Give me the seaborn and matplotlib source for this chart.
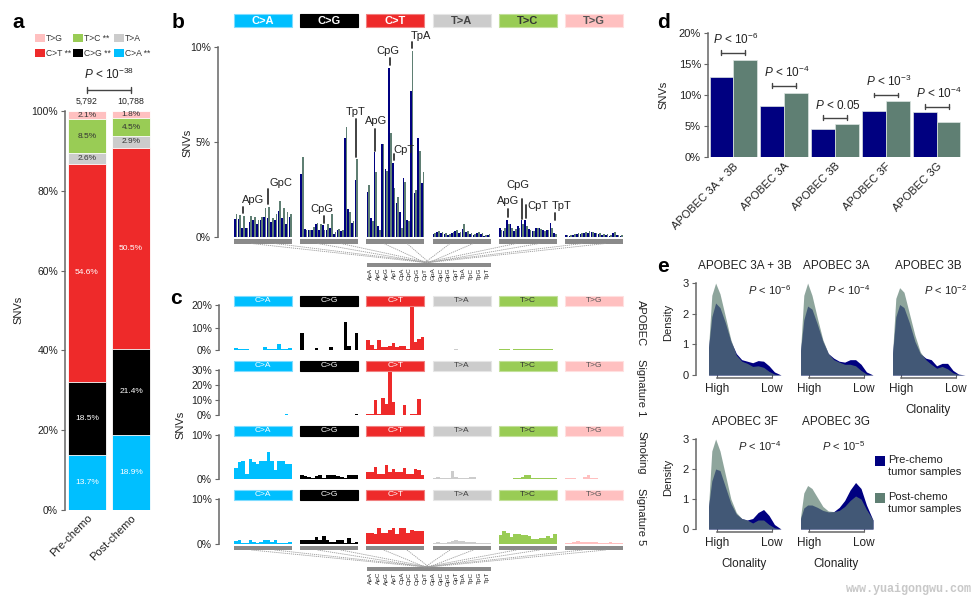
import numpy as np
import pandas as pd
import matplotlib
matplotlib.use("Agg")
import matplotlib.pyplot as plt
import seaborn as sns
from matplotlib.patches import Rectangle

# ---------------- data ----------------
MUT_TYPES = ["C>A", "C>G", "C>T", "T>A", "T>C", "T>G"]
MUT_COLORS = ["#00BFFF", "#000000", "#EE2A2A", "#CCCCCC", "#99CC55", "#FFC0C0"]
HEADER_EDGE = ["#7fdcff", "#000000", "#f08080", "#e6e6e6", "#c2e09a", "#ffe0e0"]
HEADER_TEXT = ["white", "white", "white", "#444444", "#333333", "#555555"]
BASES = ["A", "C", "G", "T"]
CONTEXTS = [f"{a}p{b}" for a in BASES for b in BASES]

# panel a
samples_a = ["Pre-chemo", "Post-chemo"]
sample_counts = ["5,792", "10,788"]
pct_pre = [13.7, 18.5, 54.6, 2.6, 8.5, 2.1]
pct_post = [18.9, 21.4, 50.5, 2.9, 4.5, 1.8]
legend_a = ["T>G", "T>C **", "T>A", "C>T **", "C>G **", "C>A **"]
legend_a_colors = ["#FFC0C0", "#99CC55", "#CCCCCC", "#EE2A2A", "#000000", "#00BFFF"]

# panel b: % of SNVs per trinucleotide context, pre / post chemo
b_pre = [
    [0.95, 0.95, 0.5, 0.45, 0.8, 0.9, 0.68, 0.9, 1.05, 0.98, 0.8, 0.92, 1.38, 0.98, 0.68, 1.03],
    [3.3, 0.4, 0.35, 0.35, 0.7, 0.35, 0.65, 0.35, 0.5, 0.15, 0.35, 0.3, 5.2, 1.45, 0.75, 3.0],
    [2.35, 1.0, 4.45, 0.6, 4.9, 3.6, 8.9, 3.9, 1.8, 1.3, 3.1, 0.9, 7.7, 2.3, 5.2, 2.85],
    [0.15, 0.25, 0.2, 0.15, 0.1, 0.2, 0.3, 0.2, 0.4, 0.25, 0.15, 0.1, 0.2, 0.15, 0.05, 0.1],
    [0.5, 0.3, 0.9, 0.7, 0.3, 0.6, 0.9, 0.9, 0.4, 0.3, 0.45, 0.45, 0.35, 0.35, 0.75, 0.2],
    [0.1, 0.05, 0.1, 0.15, 0.15, 0.2, 0.2, 0.25, 0.2, 0.15, 0.1, 0.1, 0.05, 0.2, 0.1, 0.05],
]
b_post = [
    [1.2, 1.15, 1.08, 0.45, 1.1, 1.05, 0.9, 1.05, 1.55, 1.6, 1.0, 1.2, 1.9, 1.55, 1.3, 1.2],
    [4.2, 0.35, 0.35, 0.55, 0.75, 0.7, 0.35, 0.7, 1.2, 0.25, 0.4, 0.35, 5.8, 1.3, 0.85, 4.1],
    [2.75, 0.85, 3.4, 0.35, 4.9, 3.5, 5.5, 2.6, 2.1, 0.5, 2.9, 0.85, 9.8, 2.5, 4.55, 3.4],
    [0.2, 0.3, 0.25, 0.2, 0.15, 0.25, 0.35, 0.25, 0.7, 0.3, 0.2, 0.15, 0.25, 0.2, 0.1, 0.15],
    [0.35, 0.5, 0.7, 0.5, 0.4, 0.5, 0.7, 0.6, 0.35, 0.3, 0.45, 0.4, 0.3, 0.35, 0.45, 0.15],
    [0.1, 0.1, 0.15, 0.2, 0.2, 0.25, 0.3, 0.25, 0.2, 0.2, 0.15, 0.15, 0.1, 0.25, 0.1, 0.1],
]
# (group, context index, label, line from, line to, text x, text y, ha)
b_notes = [
    (0, 2, "ApG", 1.25, 1.6, 1.6, 1.68, "left"),
    (0, 9, "GpC", 1.75, 2.55, 9.2, 2.6, "left"),
    (1, 6, "CpG", 0.75, 1.12, 5.4, 1.2, "center"),
    (1, 15, "TpT", 4.2, 6.2, 14.7, 6.3, "center"),
    (2, 2, "ApG", 4.55, 5.7, 2.2, 5.85, "center"),
    (2, 6, "CpG", 9.05, 9.4, 5.4, 9.55, "center"),
    (2, 7, "CpT", 4.05, 4.35, 7.0, 4.3, "left"),
    (2, 12, "TpA", 9.95, 10.25, 11.8, 10.3, "left"),
    (4, 2, "ApG", 1.05, 1.45, 2.0, 1.65, "center"),
    (4, 6, "CpG", 0.96, 2.0, 4.8, 2.45, "center"),
    (4, 7, "CpT", 1.0, 1.7, 7.4, 1.35, "left"),
    (4, 15, "TpT", 0.88, 1.25, 16.8, 1.35, "center"),
]

# panel c: mutational signatures (% per context)
sig_names = ["APOBEC", "Signature 1", "Smoking", "Signature 5"]
sig_apobec = [
    [0.8, 0.3, 0.3, 0.3, 0.2, 0.2, 0.2, 0.2, 1.3, 0.3, 0.3, 0.3, 2.7, 0.5, 0.5, 1.0],
    [7.7, 0.1, 0.1, 0.1, 0.8, 0.1, 0.1, 0.1, 1.5, 0.1, 0.1, 0.1, 12.5, 2.0, 0.1, 7.5],
    [4.5, 2.3, 0.3, 4.3, 1.5, 1.5, 2.0, 3.0, 1.5, 2.0, 1.8, 0.3, 19.0, 3.5, 5.0, 6.0],
    [0.2, 0.1, 0.2, 0.1, 0.2, 0.1, 0.3, 0.1, 0.2, 0.1, 0.2, 0.1, 0.1, 0.2, 0.2, 0.1],
    [0.3, 0.5, 0.3, 0.2, 0.3, 0.6, 0.5, 0.3, 0.6, 0.5, 0.3, 0.3, 0.3, 0.5, 0.3, 0.2],
    [0.1, 0.2, 0.1, 0.1, 0.1, 0.1, 0.2, 0.1, 0.1, 0.1, 0.1, 0.1, 0.1, 0.2, 0.1, 0.1],
]
sig_1 = [
    [0.3, 0.2, 0.2, 0.2, 0.3, 0.3, 0.3, 0.2, 0.3, 0.3, 0.3, 0.2, 0.3, 0.3, 0.6, 0.3],
    [0.1, 0.1, 0.1, 0.1, 0.1, 0.1, 0.1, 0.1, 0.1, 0.1, 0.1, 0.1, 0.1, 0.1, 0.1, 0.4],
    [0.5, 0.5, 10.0, 0.5, 11.5, 7.5, 29.0, 8.5, 0.3, 0.3, 6.5, 0.3, 0.5, 1.0, 11.0, 0.3],
    [0.2, 0.1, 0.2, 0.1, 0.1, 0.2, 0.1, 0.1, 0.2, 0.1, 0.1, 0.2, 0.1, 0.1, 0.1, 0.1],
    [0.3, 0.2, 0.3, 0.2, 0.3, 0.2, 0.3, 0.3, 0.3, 0.2, 0.3, 0.2, 0.3, 0.2, 0.3, 0.2],
    [0.1, 0.1, 0.1, 0.1, 0.1, 0.1, 0.1, 0.1, 0.1, 0.1, 0.1, 0.1, 0.1, 0.1, 0.1, 0.1],
]
sig_smoking = [
    [2.5, 3.8, 4.2, 1.2, 4.5, 3.8, 3.5, 4.0, 4.0, 6.1, 4.2, 2.1, 4.0, 4.2, 3.4, 3.4],
    [0.8, 0.6, 0.5, 0.3, 0.6, 1.0, 0.3, 0.8, 1.0, 0.8, 0.6, 0.5, 0.3, 1.0, 0.8, 1.0],
    [1.5, 1.5, 2.7, 1.2, 1.2, 3.2, 1.5, 2.2, 1.5, 1.5, 2.6, 1.2, 1.2, 2.3, 2.0, 1.0],
    [0.3, 0.5, 0.3, 0.2, 0.3, 1.8, 0.5, 0.3, 0.3, 0.3, 0.5, 0.4, 0.1, 0.1, 0.1, 0.1],
    [0.1, 0.1, 0.1, 0.1, 0.2, 0.3, 0.5, 0.8, 0.8, 0.3, 0.2, 0.2, 0.2, 0.2, 0.2, 0.2],
    [0.2, 0.3, 0.2, 0.1, 0.1, 0.5, 0.8, 0.3, 0.3, 0.1, 0.1, 0.1, 0.1, 0.1, 0.1, 0.1],
]
sig_5 = [
    [0.7, 1.0, 0.3, 0.3, 1.0, 0.5, 0.3, 0.5, 0.8, 0.8, 0.5, 0.8, 0.3, 0.3, 0.3, 0.5],
    [0.8, 1.0, 0.8, 1.0, 1.5, 0.8, 1.8, 0.8, 0.5, 0.5, 0.8, 1.0, 0.3, 1.3, 0.3, 0.5],
    [2.5, 2.5, 2.2, 3.5, 2.5, 2.5, 3.2, 3.5, 2.2, 3.5, 3.5, 2.5, 3.2, 2.8, 2.8, 2.8],
    [0.3, 0.5, 0.3, 0.2, 0.4, 0.6, 0.8, 0.6, 0.6, 0.5, 0.5, 0.4, 0.2, 0.2, 0.2, 0.2],
    [2.0, 2.8, 2.5, 1.5, 2.3, 2.3, 2.0, 2.0, 1.8, 1.2, 1.2, 1.4, 1.3, 1.8, 1.4, 2.2],
    [0.3, 0.2, 0.4, 0.6, 0.5, 0.5, 0.5, 0.4, 0.4, 0.3, 0.3, 0.3, 0.5, 0.3, 0.3, 0.2],
]

# panel d
d_genes = ["APOBEC 3A + 3B", "APOBEC 3A", "APOBEC 3B", "APOBEC 3F", "APOBEC 3G"]
d_pre = [12.9, 8.3, 4.5, 7.4, 7.3]
d_post = [15.6, 10.4, 5.3, 9.1, 5.6]
d_pvals = [r"$P$ < 10$^{-6}$", r"$P$ < 10$^{-4}$", r"$P$ < 0.05",
           r"$P$ < 10$^{-3}$", r"$P$ < 10$^{-4}$"]
d_bracket = [16.8, 11.5, 6.3, 10.0, 8.1]

# panel e: clonality densities (0 = high, 1 = low)
e_titles = ["APOBEC 3A + 3B", "APOBEC 3A", "APOBEC 3B", "APOBEC 3F", "APOBEC 3G"]
e_pvals = [r"$P$ < 10$^{-6}$", r"$P$ < 10$^{-4}$", r"$P$ < 10$^{-2}$",
           r"$P$ < 10$^{-4}$", r"$P$ < 10$^{-5}$"]
e_grid = [-0.16, -0.1, -0.03, 0.05, 0.15, 0.25, 0.35, 0.45, 0.55, 0.65, 0.75, 0.85, 0.95, 1.05, 1.17]
e_pre = [
    [0.9, 1.9, 2.35, 2.2, 1.7, 1.1, 0.7, 0.5, 0.45, 0.4, 0.47, 0.45, 0.3, 0.1, 0.0],
    [0.8, 1.8, 2.25, 2.15, 1.65, 1.1, 0.7, 0.55, 0.45, 0.42, 0.5, 0.5, 0.35, 0.1, 0.0],
    [0.7, 1.9, 2.3, 2.2, 1.7, 1.1, 0.7, 0.55, 0.5, 0.3, 0.38, 0.38, 0.15, 0.03, 0.0],
    [0.75, 1.6, 2.0, 1.95, 1.4, 0.85, 0.5, 0.35, 0.3, 0.35, 0.55, 0.65, 0.45, 0.15, 0.0],
    [0.35, 0.7, 0.8, 0.8, 0.72, 0.62, 0.57, 0.58, 0.72, 0.95, 1.3, 1.55, 1.35, 0.8, 0.3],
]
e_post = [
    [0.9, 2.6, 3.0, 2.65, 1.9, 1.15, 0.65, 0.45, 0.38, 0.28, 0.3, 0.25, 0.12, 0.03, 0.0],
    [0.8, 2.6, 3.0, 2.6, 1.85, 1.15, 0.7, 0.5, 0.42, 0.35, 0.35, 0.3, 0.15, 0.03, 0.0],
    [0.7, 2.5, 2.85, 2.7, 2.0, 1.3, 0.75, 0.5, 0.35, 0.22, 0.28, 0.2, 0.07, 0.02, 0.0],
    [0.75, 2.6, 3.0, 2.6, 1.8, 1.0, 0.55, 0.35, 0.3, 0.2, 0.3, 0.3, 0.15, 0.04, 0.0],
    [0.4, 1.2, 1.45, 1.35, 1.05, 0.75, 0.6, 0.58, 0.62, 0.75, 0.95, 1.1, 1.0, 0.65, 0.3],
]

# ---------------- style ----------------
NAVY = "#000080"
POST = "#5F7F73"
AX_GRAY = "#666666"
TXT = "#222222"
W, H = 975, 599

sns.set_style("ticks")
plt.rcParams["font.family"] = ["Liberation Sans", "DejaVu Sans"]
plt.rcParams["mathtext.fontset"] = "custom"
plt.rcParams["mathtext.rm"] = "Liberation Sans"
plt.rcParams["mathtext.it"] = "Liberation Sans:italic"
plt.rcParams["axes.edgecolor"] = AX_GRAY
plt.rcParams["xtick.color"] = AX_GRAY
plt.rcParams["ytick.color"] = AX_GRAY
plt.rcParams["xtick.labelcolor"] = TXT
plt.rcParams["ytick.labelcolor"] = TXT

fig = plt.figure(figsize=(W / 100, H / 100), dpi=100)

# overlay in pixel coordinates for labels / decorations
ov = fig.add_axes([0, 0, 1, 1], zorder=10)
ov.set_xlim(0, W)
ov.set_ylim(H, 0)
ov.axis("off")


def add_px_axes(x0, y0, x1, y1):
    ax = fig.add_axes([x0 / W, 1 - y1 / H, (x1 - x0) / W, (y1 - y0) / H])
    ax.patch.set_alpha(0)
    return ax


def left_axis(ax, ticks, labels, fs=7.5):
    sns.despine(ax=ax, bottom=True)
    ax.set_xticks([])
    ax.set_yticks(ticks)
    ax.set_yticklabels(labels, fontsize=fs)
    ax.spines["left"].set_bounds(ticks[0], ticks[-1])
    ax.spines["left"].set_linewidth(1.1)
    ax.tick_params(axis="y", length=3, pad=2)
    ax.set_xlabel("")
    ax.set_ylabel("")


def bracket(ax, x0, x1, y, cap):
    ax.plot([x0, x1], [y, y], color="#444444", lw=1.0, clip_on=False)
    for xx in (x0, x1):
        ax.plot([xx, xx], [y - cap, y + cap], color="#444444", lw=1.0, clip_on=False)


def letter(x, y, s):
    ov.text(x, y, s, fontsize=15, fontweight="bold", color="black", va="baseline")


# ---------------- panel a ----------------
ax_a = add_px_axes(65, 111, 153, 510)
cum_pre = np.cumsum(pct_pre)
cum_post = np.cumsum(pct_post)
for k in range(5, -1, -1):
    sns.barplot(x=samples_a, y=[cum_pre[k], cum_post[k]], color=MUT_COLORS[k],
                width=0.88, saturation=1, edgecolor="white", linewidth=0.6,
                errorbar=None, ax=ax_a)
for i, vals in enumerate([pct_pre, pct_post]):
    cum = np.cumsum(vals)
    for k, v in enumerate(vals):
        ax_a.text(i, cum[k] - v / 2, f"{v}%", ha="center", va="center", fontsize=6,
                  color="white" if k < 3 else "#333333")
    ax_a.text(i, 101.3, sample_counts[i], ha="center", va="bottom", fontsize=6.3, color=TXT)
ax_a.set_xlim(-0.5, 1.5)
ax_a.set_ylim(0, 100)
sns.despine(ax=ax_a, bottom=True)
ax_a.set_yticks(range(0, 101, 20))
ax_a.set_yticklabels([f"{t}%" for t in range(0, 101, 20)], fontsize=7.5)
ax_a.spines["left"].set_linewidth(1.1)
ax_a.tick_params(axis="y", length=3, pad=2)
ax_a.tick_params(axis="x", length=0, pad=2)
ax_a.set_xticks([0, 1])
ax_a.set_xticklabels(samples_a, rotation=45, ha="right", rotation_mode="anchor", fontsize=8)
ax_a.set_ylabel("")
bracket(ax_a, 0, 1, 105.3, 0.8)
ax_a.text(0.5, 107.2, r"$P$ < 10$^{-38}$", ha="center", va="bottom", fontsize=8.5, color=TXT,
          clip_on=False)
ov.text(18, 310, "SNVs", rotation=90, ha="center", va="center", fontsize=8, color=TXT)
for j, (lab, col) in enumerate(zip(legend_a, legend_a_colors)):
    lx = [35, 73, 114][j % 3]
    ly = 34 if j < 3 else 49
    ov.add_patch(Rectangle((lx, ly), 10, 8, facecolor=col, edgecolor="none"))
    ov.text(lx + 11, ly + 4.3, lab, ha="left", va="center", fontsize=6.2, color="#333333")
letter(12, 28, "a")

# ---------------- panel b ----------------
GX0, GW, GSTEP = 234, 58, 66.2
B_ZERO, B_YMAX = 237, 11.0
B_TOP = B_ZERO - B_YMAX * 19
ax_by = add_px_axes(218, B_TOP, 230, B_ZERO)
ax_by.set_ylim(0, B_YMAX)
left_axis(ax_by, [0, 5, 10], ["0%", "5%", "10%"])
ov.text(187, 143, "SNVs", rotation=90, ha="center", va="center", fontsize=8, color=TXT)

for g in range(6):
    x0 = GX0 + g * GSTEP
    ax = add_px_axes(x0, B_TOP, x0 + GW, B_ZERO)
    df = pd.DataFrame({
        "context": CONTEXTS * 2,
        "snv": b_pre[g] + b_post[g],
        "sample": ["Pre"] * 16 + ["Post"] * 16,
    })
    sns.barplot(df, x="context", y="snv", hue="sample", palette=[NAVY, POST],
                width=0.92, saturation=1, linewidth=0, errorbar=None, legend=False, ax=ax)
    ax.set_xlim(-0.5, 15.5)
    ax.set_ylim(0, B_YMAX)
    ax.axis("off")
    for (gg, ci, lab, lo, hi, tx, ty, ha) in b_notes:
        if gg != g:
            continue
        ax.plot([ci, ci], [lo, hi], color="#333333", lw=1.3, clip_on=False)
        ax.text(tx, ty, lab, ha=ha, va="bottom", fontsize=8, color=TXT, clip_on=False)
    # headers and base bars
    ov.add_patch(Rectangle((x0, 14), GW, 13, facecolor=MUT_COLORS[g],
                           edgecolor=HEADER_EDGE[g], lw=0.8))
    ov.text(x0 + GW / 2, 20.8, MUT_TYPES[g], ha="center", va="center", fontsize=8,
            color=HEADER_TEXT[g], fontweight="bold")
    ov.add_patch(Rectangle((x0, 239), GW, 4.5, facecolor="#8a8a8a", edgecolor="none"))
    for fx in (0.3, 0.7):
        ov.plot([x0 + fx * GW, 427 + (fx - 0.5) * 10], [243.5, 262.5], ls=(0, (1.5, 1)),
                color="#9a9a9a", lw=0.6)
letter(172, 28, "b")


def context_axis(ytop):
    ov.add_patch(Rectangle((367, ytop), 124, 4, facecolor="#8a8a8a", edgecolor="none"))
    for i, c in enumerate(CONTEXTS):
        ov.text(367 + (i + 0.5) * 124 / 16, ytop + 5, c, rotation=90, ha="center", va="top",
                fontsize=4.6, color=TXT)


context_axis(262.5)

# ---------------- panel c ----------------
c_rows = [
    (sig_apobec, 305, 350, 20, [0, 10, 20]),
    (sig_1, 370, 415, 30, [0, 10, 20, 30]),
    (sig_smoking, 435, 479, 10, [0, 10]),
    (sig_5, 499, 544, 10, [0, 10]),
]
for r, (sig, ytop, yzero, ymax, ticks) in enumerate(c_rows):
    ax_cy = add_px_axes(219, ytop, 230, yzero)
    ax_cy.set_ylim(0, ymax)
    left_axis(ax_cy, ticks, [f"{t}%" for t in ticks])
    for g in range(6):
        x0 = GX0 + g * GSTEP
        ax = add_px_axes(x0, ytop, x0 + GW, yzero)
        sns.barplot(x=CONTEXTS, y=sig[g], color=MUT_COLORS[g], width=1.0, saturation=1,
                    linewidth=0, errorbar=None, ax=ax)
        ax.set_xlim(-0.5, 15.5)
        ax.set_ylim(0, ymax)
        ax.axis("off")
        ov.add_patch(Rectangle((x0, ytop - 9), GW, 9.5, facecolor=MUT_COLORS[g],
                               edgecolor=HEADER_EDGE[g], lw=0.8))
        ov.text(x0 + GW / 2, ytop - 4.2, MUT_TYPES[g], ha="center", va="center", fontsize=6,
                color=HEADER_TEXT[g])
    ov.text(641, (ytop - 9 + yzero) / 2, sig_names[r], rotation=270, ha="center", va="center",
            fontsize=8, color=TXT)
for g in range(6):
    x0 = GX0 + g * GSTEP
    ov.add_patch(Rectangle((x0, 546), GW, 4, facecolor="#8a8a8a", edgecolor="none"))
    for fx in (0.3, 0.7):
        ov.plot([x0 + fx * GW, 427 + (fx - 0.5) * 10], [550, 567], ls=(0, (1.5, 1)),
                color="#9a9a9a", lw=0.6)
context_axis(567)
ov.text(180, 425, "SNVs", rotation=90, ha="center", va="center", fontsize=8, color=TXT)
letter(170, 304, "c")

# ---------------- panel d ----------------
ax_d = add_px_axes(708, 33, 962, 157)
df_d = pd.DataFrame({
    "gene": d_genes * 2,
    "snv": d_pre + d_post,
    "sample": ["Pre"] * 5 + ["Post"] * 5,
})
sns.barplot(df_d, x="gene", y="snv", hue="sample", palette=[NAVY, POST], width=0.94,
            saturation=1, edgecolor="#dde6e2", linewidth=0.5, errorbar=None, legend=False,
            ax=ax_d)
ax_d.set_xlim(-0.5, 4.5)
ax_d.set_ylim(0, 20)
sns.despine(ax=ax_d, bottom=True)
ax_d.set_yticks(range(0, 21, 5))
ax_d.set_yticklabels([f"{t}%" for t in range(0, 21, 5)], fontsize=8)
ax_d.spines["left"].set_linewidth(1.1)
ax_d.tick_params(axis="y", length=3, pad=2)
ax_d.tick_params(axis="x", length=0, pad=3)
ax_d.set_xticks(range(5))
ax_d.set_xticklabels(d_genes, rotation=45, ha="right", rotation_mode="anchor", fontsize=8)
ax_d.set_xlabel("")
ax_d.set_ylabel("")
for i in range(5):
    bracket(ax_d, i - 0.235, i + 0.235, d_bracket[i], 0.4)
    ax_d.text(i + 0.05, d_bracket[i] + 0.9, d_pvals[i], ha="center", va="bottom",
              fontsize=8.5, color=TXT, clip_on=False)
ov.text(663, 95, "SNVs", rotation=90, ha="center", va="center", fontsize=8, color=TXT)
letter(657, 28, "d")

# ---------------- panel e ----------------
e_boxes = [(708, 280, 781, 375), (800, 280, 873, 375), (892, 280, 965, 375),
           (708, 436, 781, 529), (800, 436, 873, 529)]
e_pfrac = [0.84, 0.67, 0.73, 0.71, 0.6]
for i, (x0, y0, x1, y1) in enumerate(e_boxes):
    ax = add_px_axes(x0, y0, x1, y1)
    ax.fill_between(e_grid, e_pre[i], color=NAVY, lw=0)
    ax.fill_between(e_grid, e_post[i], color=POST, alpha=0.7, lw=0)
    ax.set_xlim(-0.17, 1.17)
    ax.set_ylim(0, 3.1)
    sns.despine(ax=ax)
    ax.spines["bottom"].set_bounds(0, 1)
    ax.spines["bottom"].set_position(("outward", 2))
    ax.spines["bottom"].set_linewidth(1.1)
    ax.set_xticks([0, 1])
    ax.set_xticklabels(["High", "Low"], fontsize=8.5)
    ax.tick_params(axis="x", direction="in", length=3, pad=4)
    if i in (0, 3):
        ax.spines["left"].set_position(("outward", 9))
        ax.spines["left"].set_bounds(0, 3)
        ax.spines["left"].set_linewidth(1.1)
        ax.set_yticks([0, 1, 2, 3])
        ax.set_yticklabels(["0", "1", "2", "3"], fontsize=8)
        ax.tick_params(axis="y", length=3, pad=2)
        ov.text(668, (y0 + y1) / 2 - 5, "Density", rotation=90, ha="center", va="center",
                fontsize=8, color=TXT)
    else:
        ax.spines["left"].set_visible(False)
        ax.set_yticks([])
    ax.set_title(e_titles[i], fontsize=8.5, color=TXT, pad=8)
    ax.text(e_pfrac[i], 0.97, e_pvals[i], transform=ax.transAxes, ha="center", va="top",
            fontsize=8, color=TXT)
    if i >= 2:
        ax.set_xlabel("Clonality", fontsize=8.5, color=TXT, labelpad=6)
ov.add_patch(Rectangle((875, 456), 10, 9.5, facecolor=NAVY, edgecolor="none"))
ov.text(888, 455, "Pre-chemo\ntumor samples", ha="left", va="top", fontsize=8, color=TXT,
        linespacing=1.3)
ov.add_patch(Rectangle((875, 493), 10, 9.5, facecolor=POST, edgecolor="none"))
ov.text(888, 492, "Post-chemo\ntumor samples", ha="left", va="top", fontsize=8, color=TXT,
        linespacing=1.3)
letter(657, 272, "e")

ov.text(972, 592, "www.yuaigongwu.com", ha="right", va="baseline", fontsize=8.5,
        fontweight="bold", family="Liberation Mono", color="#c8c8c8")

fig.savefig("out.png", dpi=100)
